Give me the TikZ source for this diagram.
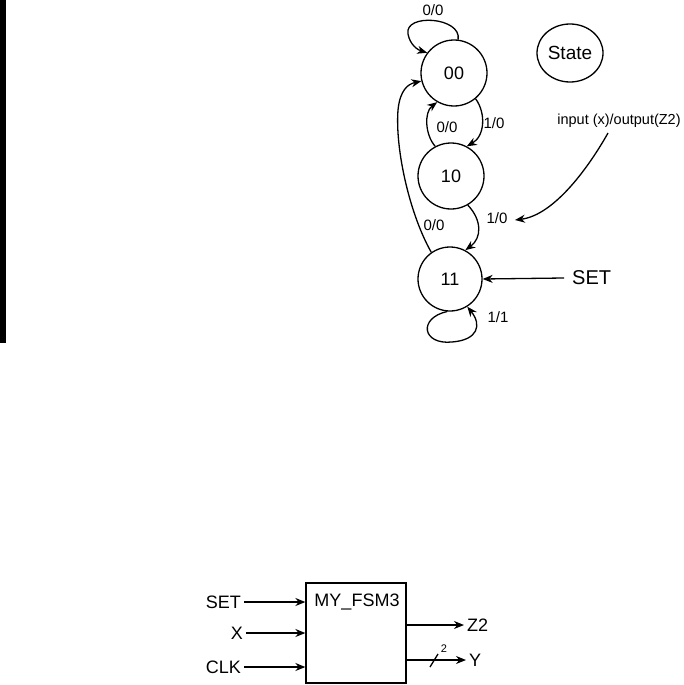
\documentclass[tikz,border=0pt]{standalone}
\usepackage{fontspec}
\setmainfont{Liberation Sans}
\usetikzlibrary{arrows.meta,shapes.geometric}
\begin{document}
\begin{tikzpicture}[x=1pt,y=-1pt,
  arr/.style={-{Stealth[length=10pt,width=8pt]}, line width=1.3pt},
  plain/.style={line width=1.3pt},
  statenode/.style={circle, draw, line width=1.3pt, minimum size=66pt, inner sep=0pt, font=\fontsize{18}{18}\selectfont},
  lbl/.style={inner sep=0pt, font=\fontsize{15}{15}\selectfont},
  big/.style={inner sep=0pt, font=\fontsize{20}{20}\selectfont},
  io/.style={inner sep=3pt, font=\fontsize{18}{18}\selectfont},
]
\useasboundingbox (0,0) rectangle (683,685);
\fill (0,0) rectangle (6,343);

% states
\node[statenode] (s00) at (454,73) {00};
\node[statenode] (s10) at (451,176) {10};
\node[statenode, minimum size=64pt] (s11) at (450,279) {11};
\node[ellipse, draw, line width=1.3pt, minimum width=66pt, minimum height=58pt, inner sep=0pt,
      font=\fontsize{19}{19}\selectfont] (legend) at (570,53) {State};

% labels
\node[lbl] (l1) at (433,10) {0/0};
\node[lbl] (l2) at (494,123) {1/0};
\node[lbl] (l3) at (447,127) {0/0};
\node[lbl] (l4) at (497,218) {1/0};
\node[lbl] (l5) at (434,225) {0/0};
\node[lbl] (l6) at (498,317) {1/1};
\node[inner sep=0pt, font=\fontsize{14.5}{14.5}\selectfont] (iolbl) at (619,121) {input (x)/output(Z2)};
\node[big, inner sep=8pt, anchor=west] (setT) at (564,278) {SET};

% transitions
\draw[arr] (s00.83) .. controls (462,17) and (404,13) .. (408,34)
           .. controls (410,45) and (418,50) .. (s00.143);
\draw[arr] (s00.-50) .. controls (486,113) and (485,136) .. (s10.62);
\draw[arr] (s10.118) .. controls (425,135) and (424,112) .. (s00.-120);
\draw[arr] (s10.-60) .. controls (482,220) and (482,238) .. (s11.62);
\draw[arr] (s11.125) .. controls (410,215) and (395,150) .. (398,110)
           .. controls (400,90) and (408,84) .. (s00.194);
\draw[arr] (s11.-95) .. controls (418,318) and (422,345) .. (452,342)
           .. controls (478,340) and (482,325) .. (s11.-58);
\draw[arr] (setT.west) -- (s11.east);

\coordinate (iostart) at (608,133);
\coordinate (ptr) at (515,220);
\draw[arr] (iostart) .. controls (590,165) and (555,215) .. (ptr);

% block
\node[draw, line width=1.3pt, minimum width=100pt, minimum height=100pt, inner sep=0pt] (fsm) at (356,633) {};
\node[inner sep=0pt, font=\fontsize{18}{18}\selectfont] (fsmname) at (357,602) {MY\_FSM3};

\node[io, anchor=east] (inSET) at (244,602) {SET};
\node[io, anchor=east] (inX) at (246,633) {X};
\node[io, anchor=east] (inCLK) at (244,667) {CLK};
\draw[arr] (inSET.east) -- (inSET.east -| fsm.west);
\draw[arr] (inX.east) -- (inX.east -| fsm.west);
\draw[arr] (inCLK.east) -- (inCLK.east -| fsm.west);

\node[io, anchor=west] (outZ) at (464,625) {Z2};
\node[io, anchor=west] (outY) at (466,660) {Y};
\draw[arr] (outZ.west -| fsm.east) -- (outZ.west);
\draw[arr] (outY.west -| fsm.east) -- (outY.west);
\coordinate (slA) at (430,667);
\coordinate (slB) at (438,654);
\draw[plain] (slA) -- (slB);
\node[inner sep=0pt, font=\fontsize{11}{11}\selectfont] (bw) at (444,649) {2};
\end{tikzpicture}
\end{document}
